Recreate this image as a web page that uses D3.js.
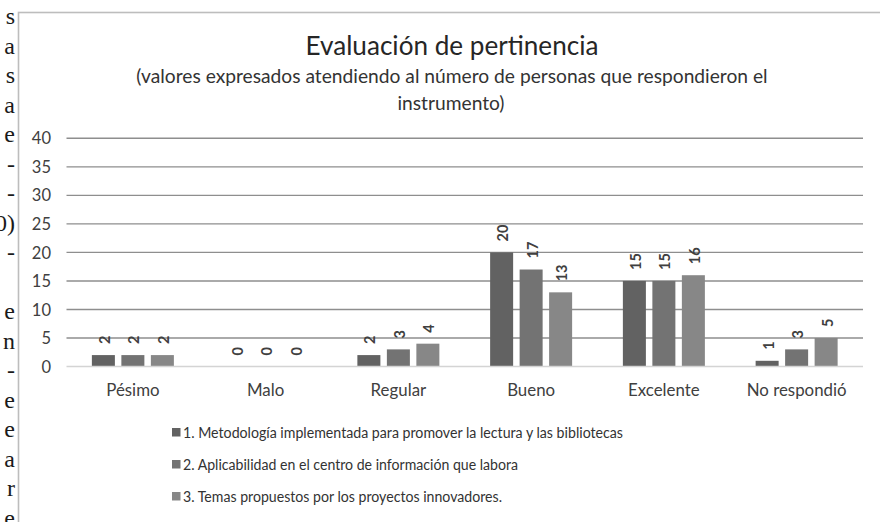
<!DOCTYPE html>
<html>
<head>
<meta charset="utf-8">
<script src="https://cdn.jsdelivr.net/npm/d3@7"></script>
<style>
  html, body { margin: 0; padding: 0; background: #fff; }
  svg { display: block; }
</style>
</head>
<body>
<svg id="chart" width="880" height="522"></svg>
<script>
// ---- data ----
const categories = ["Pésimo", "Malo", "Regular", "Bueno", "Excelente", "No respondió"];
const seriesNames = [
  "1. Metodología implementada para promover la lectura y las bibliotecas",
  "2. Aplicabilidad en el centro de información que labora",
  "3. Temas propuestos por los proyectos innovadores."
];
const series1 = [2, 0, 2, 20, 15, 1];
const series2 = [2, 0, 3, 17, 15, 3];
const series3 = [2, 0, 4, 13, 16, 5];
const yTicks = [0, 5, 10, 15, 20, 25, 30, 35, 40];
const seriesColors = ["#626262", "#737373", "#878787"];
const titleText = "Evaluación de pertinencia";
const subtitleLines = [
  "(valores expresados atendiendo al número de personas que respondieron el",
  "instrumento)"
];
// cropped letters of the surrounding document, left margin
const sideLetters = ["s", "a", "s", "a", "e", "-", "-", "0)", "-", "", "e", "n", "-", "e", "e", "a", "r", "e"];

// ---- layout ----
const svg = d3.select("#chart");
const FONT = "Lato, 'Open Sans', sans-serif";
const plot = { left: 66.5, right: 863, top: 138.3, bottom: 366.5 };

function fitWidth(sel, target) {
  const node = sel.node();
  const fs = parseFloat(sel.attr("font-size"));
  const w = node.getComputedTextLength();
  if (w > 0) sel.attr("font-size", (fs * target / w).toFixed(2));
  return fs * target / w;
}

// side letters
svg.append("g")
  .selectAll("text")
  .data(sideLetters)
  .join("text")
  .attr("x", 15)
  .attr("y", (d, i) => 24 + i * 29.5)
  .attr("text-anchor", "end")
  .attr("font-family", "'Liberation Serif', 'DejaVu Serif', serif")
  .attr("font-size", 24)
  .attr("fill", "#1a1a1a")
  .text(d => d);

// chart frame
svg.append("rect")
  .attr("x", 18.5).attr("y", 12.5)
  .attr("width", 900).attr("height", 600)
  .attr("fill", "#fff")
  .attr("stroke", "#bdbdbd")
  .attr("stroke-width", 1.6);

// title
const title = svg.append("text")
  .attr("x", 452).attr("y", 55)
  .attr("text-anchor", "middle")
  .attr("font-family", FONT)
  .attr("font-size", 22)
  .attr("fill", "#262626")
  .text(titleText);
fitWidth(title, 293);

const sub1 = svg.append("text")
  .attr("x", 452).attr("y", 83)
  .attr("text-anchor", "middle")
  .attr("font-family", FONT)
  .attr("font-size", 16)
  .attr("fill", "#333")
  .text(subtitleLines[0]);
const subFs = fitWidth(sub1, 632);
svg.append("text")
  .attr("x", 451).attr("y", 110)
  .attr("text-anchor", "middle")
  .attr("font-family", FONT)
  .attr("font-size", subFs.toFixed(2))
  .attr("fill", "#333")
  .text(subtitleLines[1]);

// scales
const y = d3.scaleLinear().domain([0, 40]).range([plot.bottom, plot.top]);
const x0 = d3.scaleBand().domain(categories).range([plot.left, plot.right]).padding(0);
const groupW = 82;
const x1 = d3.scaleBand().domain([0, 1, 2])
  .range([(x0.bandwidth() - groupW) / 2, (x0.bandwidth() + groupW) / 2])
  .paddingInner(0.22).paddingOuter(0);

// gridlines
svg.append("g")
  .selectAll("line")
  .data(yTicks.filter(t => t > 0))
  .join("line")
  .attr("x1", plot.left).attr("x2", plot.right)
  .attr("y1", d => y(d)).attr("y2", d => y(d))
  .attr("stroke", "#8e8e8e")
  .attr("stroke-width", 1.4);

// y axis labels
const yAxis = d3.axisLeft(y).tickValues(yTicks).tickSize(0).tickPadding(0).tickFormat(d3.format("d"));
const yg = svg.append("g").attr("transform", `translate(51,0)`).call(yAxis);
yg.select(".domain").remove();
yg.selectAll("text")
  .attr("font-family", FONT)
  .attr("font-size", 16.5)
  .attr("fill", "#404040")
  .attr("dy", "0.34em");

// bars
const allSeries = [series1, series2, series3];
const rows = categories.map((c, ci) => ({ cat: c, vals: allSeries.map((s, si) => ({ si, v: s[ci] })) }));

const groups = svg.append("g").selectAll("g")
  .data(rows)
  .join("g")
  .attr("transform", d => `translate(${x0(d.cat)},0)`);

groups.selectAll("rect")
  .data(d => d.vals)
  .join("rect")
  .attr("x", d => x1(d.si))
  .attr("width", x1.bandwidth())
  .attr("y", d => y(d.v))
  .attr("height", d => y(0) - y(d.v))
  .attr("fill", d => seriesColors[d.si]);

// zero axis line
svg.append("line")
  .attr("x1", plot.left).attr("x2", plot.right)
  .attr("y1", y(0)).attr("y2", y(0))
  .attr("stroke", "#d4d4d4")
  .attr("stroke-width", 1.5);

// data labels (rotated)
groups.selectAll("text")
  .data(d => d.vals)
  .join("text")
  .attr("transform", d => `translate(${x1(d.si) + x1.bandwidth() / 2 + 1},${y(d.v) - 11}) rotate(-90)`)
  .attr("text-anchor", "start")
  .attr("dominant-baseline", "central")
  .attr("font-family", FONT)
  .attr("font-weight", "bold")
  .attr("font-size", 14.5)
  .attr("fill", "#404040")
  .text(d => d.v);

// category labels
const xAxis = d3.axisBottom(x0).tickSize(0).tickPadding(0);
const xg = svg.append("g").attr("transform", `translate(0,${y(0)})`).call(xAxis);
xg.select(".domain").remove();
xg.selectAll("text")
  .attr("font-family", FONT)
  .attr("font-size", 16)
  .attr("fill", "#404040")
  .attr("dy", "1.45em");
const lastCat = xg.selectAll("text").filter(d => d === "No respondió");
const catFs = fitWidth(lastCat, 100);
xg.selectAll("text").attr("font-size", catFs.toFixed(2)).attr("dy", null).attr("y", 29.5);

// legend
const legendRowsY = [437.5, 469.5, 501.5];
const legendWidths = [440, 335, 319];
const legend = svg.append("g").selectAll("g")
  .data(seriesNames)
  .join("g")
  .attr("transform", (d, i) => `translate(0,${legendRowsY[i]})`);
legend.append("rect")
  .attr("x", 172).attr("y", -9.5)
  .attr("width", 8.5).attr("height", 8.5)
  .attr("fill", (d, i) => seriesColors[i]);
legend.append("text")
  .attr("x", 183).attr("y", 0)
  .attr("font-family", FONT)
  .attr("font-size", 15.5)
  .attr("fill", "#333")
  .attr("textLength", (d, i) => legendWidths[i])
  .attr("lengthAdjust", "spacingAndGlyphs")
  .text(d => d);
</script>
</body>
</html>
